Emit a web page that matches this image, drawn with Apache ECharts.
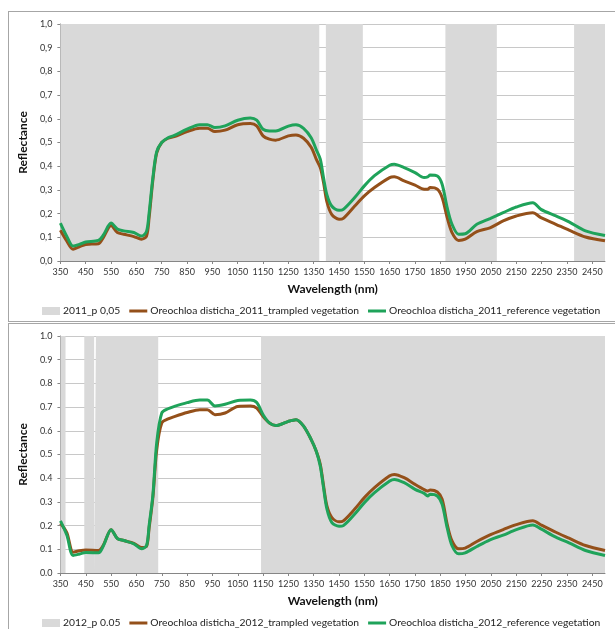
<!DOCTYPE html>
<html>
<head>
<meta charset="utf-8">
<title>Reflectance</title>
<script src="https://cdn.jsdelivr.net/npm/echarts@6/dist/echarts.min.js"></script>
<style>
  body { margin: 0; background: #fff; overflow: hidden; }
  .panel { position: absolute; left: 8px; width: 612px; height: 309px; border: 1px solid #a6a6a6; }
</style>
</head>
<body>
<div class="panel" id="chart2011" style="top:11px;"></div>
<div class="panel" id="chart2012" style="top:323px;"></div>
<script>
// wavelength (nm) sample points
var wl = [350,375,400,425,450,500,520,550,575,600,640,670,690,700,715,730,750,775,800,850,900,930,960,1000,1050,1100,1125,1150,1175,1200,1250,1280,1310,1340,1360,1376,1389,1402,1421,1450,1467,1512,1550,1590,1650,1668,1707,1750,1786,1800,1810,1838,1857,1877,1896,1922,1948,1994,2046,2098,2150,2215,2247,2306,2358,2423,2500];

// 2011
var trampled2011 = [0.13,0.085,0.05,0.06,0.07,0.073,0.10,0.15,0.12,0.113,0.103,0.092,0.105,0.18,0.34,0.455,0.50,0.518,0.525,0.546,0.56,0.56,0.546,0.552,0.575,0.58,0.57,0.528,0.514,0.51,0.528,0.532,0.518,0.48,0.43,0.394,0.33,0.25,0.197,0.176,0.18,0.232,0.275,0.31,0.352,0.355,0.338,0.32,0.303,0.303,0.31,0.303,0.268,0.183,0.12,0.087,0.092,0.124,0.14,0.169,0.19,0.204,0.183,0.155,0.13,0.101,0.085];
var reference2011 = [0.16,0.105,0.063,0.07,0.08,0.087,0.11,0.16,0.135,0.127,0.12,0.105,0.125,0.20,0.35,0.46,0.50,0.52,0.53,0.556,0.575,0.575,0.563,0.57,0.594,0.603,0.594,0.556,0.549,0.549,0.569,0.575,0.56,0.52,0.47,0.43,0.35,0.28,0.232,0.214,0.218,0.268,0.317,0.36,0.404,0.408,0.394,0.373,0.352,0.355,0.363,0.359,0.324,0.225,0.155,0.113,0.115,0.155,0.179,0.204,0.228,0.246,0.218,0.19,0.165,0.127,0.108];
// significant bands p < 0.05 (nm ranges)
var bands2011 = [[350,1372],[1398,1544],[1870,2073],[2378,2500]];

// 2012
var trampled2012 = [0.21,0.17,0.088,0.094,0.097,0.095,0.119,0.183,0.145,0.137,0.125,0.108,0.113,0.19,0.32,0.52,0.633,0.65,0.66,0.677,0.689,0.689,0.668,0.675,0.703,0.705,0.696,0.66,0.633,0.622,0.64,0.647,0.62,0.563,0.514,0.458,0.367,0.283,0.235,0.216,0.22,0.27,0.318,0.36,0.41,0.416,0.402,0.374,0.352,0.346,0.35,0.342,0.311,0.205,0.135,0.102,0.105,0.133,0.161,0.183,0.204,0.22,0.203,0.172,0.147,0.116,0.095];
var reference2012 = [0.22,0.16,0.074,0.08,0.087,0.085,0.116,0.183,0.145,0.137,0.123,0.102,0.116,0.20,0.33,0.55,0.675,0.693,0.703,0.719,0.73,0.73,0.705,0.712,0.728,0.73,0.719,0.668,0.633,0.622,0.64,0.647,0.62,0.563,0.514,0.45,0.357,0.27,0.214,0.197,0.20,0.249,0.297,0.339,0.388,0.395,0.381,0.353,0.336,0.325,0.332,0.325,0.29,0.19,0.115,0.081,0.085,0.112,0.14,0.16,0.183,0.203,0.186,0.151,0.127,0.095,0.074];
var bands2012 = [[350,370],[444,483],[490,736],[1142,2500]];

var tickFont = "'Liberation Sans Narrow', Lato, sans-serif";
var textFont = "Lato, 'Open Sans', sans-serif";
var lineIcon = 'path://M0,0H18V3H0Z';

function pairs(x, y) {
  var out = [];
  for (var i = 0; i < x.length; i++) out.push([x[i], y[i]]);
  return out;
}

function bandData(bands) {
  var out = [];
  for (var i = 0; i < bands.length; i++) {
    out.push([bands[i][0], 0], [bands[i][0], 1], [bands[i][1], 1], [bands[i][1], 0]);
  }
  return out;
}

function drawPanel(id, bandName, brownName, greenName, bands, brown, green, sep) {
  var chart = echarts.init(document.getElementById(id));
  var option = {
    animation: false,
    legend: {
      left: 28,
      top: 289,
      itemWidth: 18,
      itemHeight: 8,
      itemGap: 9,
      symbolKeepAspect: true,
      textStyle: { fontFamily: textFont, fontSize: 10.3, color: '#222', padding: [0, 0, 0, -2] },
      data: [{ name: bandName, icon: 'rect' }, { name: brownName, icon: lineIcon }, { name: greenName, icon: lineIcon }]
    },
    grid: { left: 45, top: 12, width: 551, height: 237 },
    xAxis: {
      type: 'value',
      min: 350,
      max: 2500,
      interval: 100,
      name: 'Wavelength (nm)',
      nameLocation: 'middle',
      nameGap: 22,
      nameTextStyle: { fontFamily: textFont, fontWeight: 'bold', fontSize: 12, color: '#111' },
      axisLine: { lineStyle: { color: '#868686' } },
      axisTick: { length: 3, lineStyle: { color: '#868686' } },
      axisLabel: {
        showMaxLabel: false, fontFamily: tickFont, fontSize: 9, color: '#333', margin: 7,
        formatter: function (v) { return String(v); }
      },
      splitLine: { show: false }
    },
    yAxis: {
      type: 'value',
      min: 0,
      max: 1,
      interval: 0.1,
      name: 'Reflectance',
      nameLocation: 'middle',
      nameGap: 29,
      nameTextStyle: { fontFamily: textFont, fontWeight: 'bold', fontSize: 12, color: '#111' },
      axisLine: { show: true, lineStyle: { color: '#868686' } },
      axisTick: { show: true, length: 3, lineStyle: { color: '#868686' } },
      axisLabel: {
        fontFamily: tickFont, fontSize: 9, color: '#333', margin: 8,
        formatter: function (v) { return v.toFixed(1).replace('.', sep); }
      },
      splitLine: { lineStyle: { color: '#c8c8c8' } }
    },
    series: [
      {
        name: bandName,
        type: 'line',
        symbol: 'none',
        itemStyle: { color: '#d9d9d9' },
        lineStyle: { width: 0 },
        areaStyle: { color: '#d9d9d9', opacity: 1 },
        data: bandData(bands)
      },
      {
        name: brownName,
        type: 'line',
        symbol: 'none',
        smooth: 0.3,
        itemStyle: { color: '#94501a' },
        lineStyle: { width: 3, color: '#94501a' },
        data: pairs(wl, brown)
      },
      {
        name: greenName,
        type: 'line',
        symbol: 'none',
        smooth: 0.3,
        itemStyle: { color: '#1fa35a' },
        lineStyle: { width: 3, color: '#1fa35a' },
        data: pairs(wl, green)
      }
    ]
  };
  chart.setOption(option);
}

drawPanel('chart2011', '2011_p 0,05', 'Oreochloa disticha_2011_trampled vegetation',
  'Oreochloa disticha_2011_reference vegetation', bands2011, trampled2011, reference2011, ',');
drawPanel('chart2012', '2012_p 0.05', 'Oreochloa disticha_2012_trampled vegetation',
  'Oreochloa disticha_2012_reference vegetation', bands2012, trampled2012, reference2012, '.');
</script>
</body>
</html>
